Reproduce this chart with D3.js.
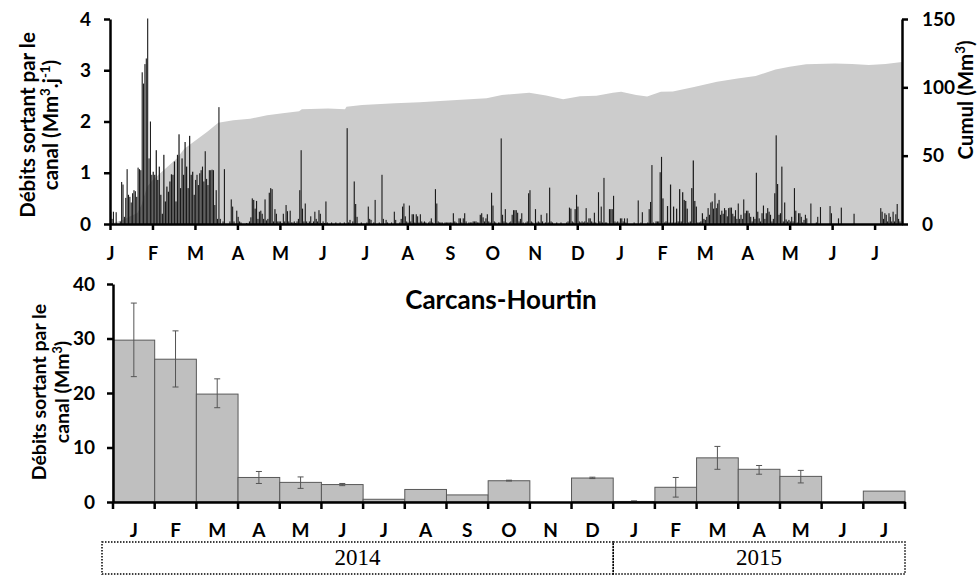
<!DOCTYPE html>
<html lang="fr">
<head>
<meta charset="UTF-8">
<title>Carcans-Hourtin - débits sortant par le canal</title>
<script src="https://cdn.jsdelivr.net/npm/d3@7"></script>
<style>
  body { margin: 0; background: #fff; }
  svg text { font-family: Lato, "Open Sans", sans-serif; font-weight: bold; fill: #000; }
  svg text.year { font-family: "Liberation Serif", "Times New Roman", serif; font-weight: normal; }
</style>
</head>
<body>
<svg id="chart" width="979" height="576"></svg>
<script>
// month initials, Jan 2014 -> Jul 2015
const months = ["J", "F", "M", "A", "M", "J", "J", "A", "S", "O", "N", "D", "J", "F", "M", "A", "M", "J", "J"];
const years = ["2014", "2015"];
const monthsPerYear = [12, 7];

// daily outflow (Mm3/day), one array per month
const daily2014 = [
  [0.24,0.10,0.24,0,0.23,0,0,0.05,0.82,0.77, 0.14,0.51,1.07,0.57,0.53,0.42,0.60,0.66,0.64,0.53, 1.10,1.07,1.05,2.96,2.74,3.12,3.23,4.01,1.28,2.00,0.96],
  [1.02,0.96,1.44,0.86,1.12,0.57,0.20,1.35,0.44,0.73, 0.63,0.83,0.97,0.96,1.22,0.44,1.35,1.75,0.70,1.28, 0.96,1.60,1.12,0.70,1.72,0.96,1.02,0.57],
  [0.86,0.96,0.76,0.99,1.05,1.12,0.83,1.42,0.88,0.76, 1.05,1.05,1.06,1.05,0.37,0.66,0.10,2.28,0.10,0, 0.05,1.07,0,0,0,0.05,0.48,0.34,0.05,0, 0.26],
  [0.14,0.05,0.03,0,0,0,0.02,0,0.05,0.13, 0.50,0.47,0.30,0.45,0.10,0.24,0.26,0.20,0.10,0.48, 0.07,0.10,0.61,0.70,0.68,0.05,0.29,0.20,0.05,0.05],
  [0.05,0.02,0.20,0.05,0.37,0.25,0.05,0.26,0.03,0.03, 0.05,0.02,0.05,0.10,0.66,1.44,0.30,0.05,0.40,0.05, 0.02,0.05,0.15,0.02,0.05,0.24,0.10,0.05,0.27,0.20, 0.02],
  [0.05,0.02,0.44,0.03,0,0,0.03,0,0,0.03, 0,0,0.03,0,0,0.03,0,1.87,0.03,0.08, 0,0.05,0.83,0.39,0.14,0,0,0.03,0,0],
  [0,0.03,0.34,0.10,0.08,0,0.03,0.47,0,0, 0.03,0,0.96,0.10,0,0.08,0.03,0,0,0.03, 0,0.24,0.08,0,0,0.03,0.10,0.34,0.40,0.15, 0.05],
  [0.03,0.36,0.05,0.19,0.19,0.03,0.19,0.15,0.03,0.19, 0.05,0.03,0.05,0.03,0,0.03,0.05,0.11,0.03,0, 0.68,0.40,0.05,0.03,0.03,0.03,0,0.03,0.03,0.03, 0.03],
  [0.03,0.03,0.21,0.05,0.03,0,0.11,0.11,0.03,0.11, 0.21,0.05,0,0.03,0.03,0.03,0.05,0.05,0.05,0.03, 0.03,0.18,0.21,0.13,0.05,0.11,0.19,0.05,0.03,0.61],
  [0.36,0.05,0.03,0,0.03,0.03,1.67,0.18,0.05,0.29, 0.03,0,0.03,0.05,0.18,0.27,0.27,0.27,0.22,0.05, 0.10,0.21,0.03,0,0.03,0.05,0.60,0.66,0.05,0.03, 0],
  [0.29,0.03,0.05,0.03,0.18,0.05,0,0.03,0.21,0.03, 0.71,0.05,0.03,0,0,0.03,0,0,0.03,0, 0,0,0.03,0.05,0.32,0.30,0.05,0.03,0.29,0.57],
  [0.34,0.05,0.03,0.05,0.03,0.05,0.31,0.03,0.11,0.11, 0.05,0.03,0.22,0.03,0,0.62,0.05,0.34,0.03,0.90, 0.03,0.03,0,0.29,0.29,0.29,0.55,0.05,0.03,0.05, 0.03]
];
const daily2015 = [
  [0.11,0.11,0.05,0.11,0.03,0.11,0,0,0,0, 0.03,0,0,0.46,0,0.03,0.23,0,0,0, 0.03,0.29,0.43,1.15,0.03,0,0.05,0.05,0.05,1.01, 1.31],
  [0.50,0.03,0.05,0.35,0.03,0.77,0.03,0.34,0.03,0.30, 0.05,0.68,0.05,0.62,0.47,0.45,0.30,0.03,0.05,0.70, 1.24,0.45,0.34,0.03,0.03,0.05,0.21,0.10],
  [0.08,0.14,0.31,0.18,0.42,0.44,0.30,0.60,0.31,0.40, 0.47,0.18,0.26,0.20,0.31,0.27,0.15,0.31,0.32,0.32, 0.20,0.15,0.27,0.10,0.40,0.10,0.18,0.10,0.48,0.21, 0.26],
  [0.26,0.21,0.14,0.05,0.14,0.10,1.00,0.24,0.11,0.05, 0.21,0.36,0.10,0.21,0.31,0.24,0.18,0.05,0.10,0.60, 1.73,0.78,0.18,0.21,1.12,0.05,0.42,0.09,0.05,0.08],
  [0.05,0.14,0.05,0.70,0.26,0.03,0.21,0.21,0.14,0.03, 0.08,0.18,0.11,0,0,0.40,0,0,0,0.03, 0.14,0,0.33,0,0,0,0,0,0,0.35, 0.21],
  [0,0,0,0,0.11,0,0.32,0,0,0, 0,0,0,0,0,0.20,0,0,0,0, 0,0,0,0,0,0,0,0,0,0],
  [0,0,0,0,0.31,0.24,0.10,0.21,0.18,0.05, 0.21,0.14,0.05,0.24,0.05,0.19,0.39,0.10,0.05]
];
const axisEnd = "2015-07-21";

// cumulative volume (Mm3), right axis of the top panel
const cumulDates = ["2014-01-01","2014-01-10","2014-01-21","2014-01-24","2014-01-28","2014-02-01","2014-02-07","2014-02-17",
  "2014-02-22","2014-02-28","2014-03-10","2014-03-18","2014-03-29","2014-04-10","2014-04-22","2014-05-03","2014-05-15",
  "2014-05-17","2014-06-05","2014-06-17","2014-06-18","2014-06-29","2014-07-23","2014-08-10","2014-09-03","2014-09-27",
  "2014-10-08","2014-10-28","2014-11-09","2014-11-21","2014-12-03","2014-12-15","2014-12-27","2015-01-02","2015-01-13",
  "2015-01-21","2015-01-31","2015-02-08","2015-02-22","2015-03-10","2015-03-25","2015-04-07","2015-04-21","2015-05-01",
  "2015-05-13","2015-06-03","2015-06-15","2015-06-27","2015-07-09","2015-07-21"];
const cumulValues = [0, 3, 8, 14, 27, 32, 38, 48,
  55, 60, 67.5, 74, 76, 77, 79.5, 81, 82.5,
  84, 84.6, 84, 85.8, 87, 88.3, 89, 90.5, 92,
  94.4, 96.1, 94, 91.2, 93.5, 93.8, 96, 96.8, 94.4,
  93.3, 96.8, 97, 100.2, 104, 106.4, 108.3, 113, 115,
  116.8, 117.5, 117, 116.3, 117, 118.5];

// monthly outflow (Mm3) with error bar limits, bottom panel
const monthlyFlow = [29.7, 26.2, 19.8, 4.5, 3.6, 3.2, 0.5, 2.3, 1.3, 3.9, 0, 4.4, 0.1, 2.7, 8.1, 6.0, 4.7, 0, 2.0];
const monthlyLow  = [23.0, 21.1, 17.3, 3.4, 2.5, 3.0, null, null, null, 3.85, null, 4.3, 0.1, 0.9, 6.0, 5.1, 3.5, null, null];
const monthlyHigh = [36.5, 31.4, 22.6, 5.6, 4.6, 3.4, null, null, null, 4.0, null, 4.55, 0.2, 4.5, 10.2, 6.7, 5.8, null, null];

const flowTicks = [0, 1, 2, 3, 4];
const cumulTicks = [0, 50, 100, 150];
const monthlyTicks = [0, 10, 20, 30, 40];

// helpers: a date -> fractional month index since Jan 2014 (each month gets the same width)
function daysIn(year, month) { return new Date(year, month + 1, 0).getDate(); }
function monthPos(dateStr) {
  const [y, mo, d] = dateStr.split('-').map(Number);
  return (y - 2014) * 12 + (mo - 1) + (d - 1) / daysIn(y, mo - 1);
}

const dailyData = [];
[daily2014, daily2015].forEach((yearArr, yi) => {
  yearArr.forEach((monthArr, mi) => {
    const dim = daysIn(2014 + yi, mi);
    monthArr.forEach((v, di) => {
      dailyData.push({ m: yi * 12 + mi + di / dim, w: 1 / dim, v: v });
    });
  });
});
const cumulData = cumulDates.map((d, i) => ({ m: monthPos(d), v: cumulValues[i] }));

const svg = d3.select('#chart');

function styleAxis(g, size) {
  g.attr('font-family', null).attr('font-size', null);
  g.selectAll('path, line').attr('stroke', '#000').attr('stroke-width', 2.5);
  g.selectAll('text').style('font-size', size + 'px');
}

// ---------- top panel: daily flow + cumulative ----------
const topBox = { left: 110, right: 902, top: 19, bottom: 224 };
const x = d3.scaleLinear().domain([0, monthPos(axisEnd)]).range([topBox.left, topBox.right]);
const yFlow = d3.scaleLinear().domain([0, 4]).range([topBox.bottom, topBox.top]);
const yCumul = d3.scaleLinear().domain([0, 150]).range([topBox.bottom, topBox.top]);

svg.append('path')
  .datum(cumulData)
  .attr('fill', '#cccccc')
  .attr('d', d3.area().x(d => x(d.m)).y0(yCumul(0)).y1(d => yCumul(d.v)));

svg.append('g').selectAll('rect')
  .data(dailyData.filter(d => d.v > 0))
  .enter().append('rect')
  .attr('x', d => x(d.m) + (x(d.w) - x(0)) * 0.1)
  .attr('width', d => (x(d.w) - x(0)) * 0.8)
  .attr('y', d => yFlow(d.v))
  .attr('height', d => yFlow(0) - yFlow(d.v))
  .attr('fill', '#1a1a1a');

svg.append('g')
  .attr('transform', `translate(0,${topBox.bottom})`)
  .call(d3.axisBottom(x).tickValues(d3.range(months.length)).tickFormat(i => months[i])
    .tickSize(6).tickSizeOuter(0).tickPadding(17))
  .call(g => styleAxis(g, 18));

svg.append('g')
  .attr('transform', `translate(${topBox.left},0)`)
  .call(d3.axisLeft(yFlow).tickValues(flowTicks).tickFormat(d3.format('d'))
    .tickSize(6).tickSizeOuter(0).tickPadding(13))
  .call(g => styleAxis(g, 19));

svg.append('g')
  .attr('transform', `translate(${topBox.right},0)`)
  .call(d3.axisRight(yCumul).tickValues(cumulTicks).tickSize(6).tickSizeOuter(0).tickPadding(14))
  .call(g => styleAxis(g, 19));

// rotated axis titles, one entry per line; superscript parts are raised then dropped back
function rotatedLabel(cx, cy, lines, size, gap) {
  const g = svg.append('g').attr('transform', `translate(${cx},${cy}) rotate(-90)`);
  const rise = size * 0.38;
  lines.forEach((parts, i) => {
    const t = g.append('text').attr('text-anchor', 'middle').attr('y', i * gap).style('font-size', size + 'px');
    let shift = 0;
    parts.forEach(p => {
      const sp = t.append('tspan');
      if (p.sup) {
        sp.attr('dy', -rise - shift).style('font-size', (size * 0.65) + 'px').text(p.sup);
        shift = -rise;
      } else {
        if (shift) sp.attr('dy', -shift);
        sp.text(p.t);
        shift = 0;
      }
    });
  });
}

rotatedLabel(35, 125, [
  [{ t: 'Débits sortant par le' }],
  [{ t: 'canal (Mm' }, { sup: '3' }, { t: '.j' }, { sup: '-1' }, { t: ')' }]
], 20.5, 23);

rotatedLabel(973, 100, [
  [{ t: 'Cumul (Mm' }, { sup: '3' }, { t: ')' }]
], 20.5, 23);

// ---------- bottom panel: monthly totals ----------
const botBox = { left: 113, right: 905, top: 284, bottom: 502 };
const xB = d3.scaleBand().domain(d3.range(months.length)).range([botBox.left, botBox.right]).padding(0);
const yB = d3.scaleLinear().domain([0, 40]).range([botBox.bottom, botBox.top]);

svg.append('g').selectAll('rect')
  .data(monthlyFlow.map((v, i) => ({ i, v })).filter(d => d.v > 0))
  .enter().append('rect')
  .attr('x', d => xB(d.i))
  .attr('width', xB.bandwidth())
  .attr('y', d => yB(d.v))
  .attr('height', d => yB(0) - yB(d.v))
  .attr('fill', '#bfbfbf')
  .attr('stroke', '#595959')
  .attr('stroke-width', 1);

// error bars
const errData = monthlyFlow.map((v, i) => ({ i, lo: monthlyLow[i], hi: monthlyHigh[i] })).filter(d => d.lo !== null);
const errG = svg.append('g').attr('stroke', '#555').attr('stroke-width', 1);
errData.forEach(d => {
  const cx = xB(d.i) + xB.bandwidth() / 2;
  errG.append('line').attr('x1', cx).attr('x2', cx).attr('y1', yB(d.lo)).attr('y2', yB(d.hi));
  errG.append('line').attr('x1', cx - 3).attr('x2', cx + 3).attr('y1', yB(d.lo)).attr('y2', yB(d.lo));
  errG.append('line').attr('x1', cx - 3).attr('x2', cx + 3).attr('y1', yB(d.hi)).attr('y2', yB(d.hi));
});

// x axis: labels centred on the months, ticks on the month boundaries
svg.append('g')
  .attr('transform', `translate(0,${botBox.bottom})`)
  .call(d3.axisBottom(xB).tickFormat(i => months[i]).tickSize(0).tickPadding(22))
  .call(g => styleAxis(g, 19));

svg.append('g').selectAll('line')
  .data(d3.range(months.length + 1))
  .enter().append('line')
  .attr('x1', i => i < months.length ? xB(i) : xB.range()[1])
  .attr('x2', i => i < months.length ? xB(i) : xB.range()[1])
  .attr('y1', botBox.bottom)
  .attr('y2', botBox.bottom + 7)
  .attr('stroke', '#000')
  .attr('stroke-width', 2.5);

svg.append('g')
  .attr('transform', `translate(${botBox.left},0)`)
  .call(d3.axisLeft(yB).tickValues(monthlyTicks).tickSize(6).tickSizeOuter(0).tickPadding(12))
  .call(g => styleAxis(g, 19));

rotatedLabel(46, 392, [
  [{ t: 'Débits sortant par le' }],
  [{ t: 'canal (Mm' }, { sup: '3' }, { t: ')' }]
], 19.5, 23);

svg.append('text')
  .attr('x', 501)
  .attr('y', 309)
  .attr('text-anchor', 'middle')
  .style('font-size', '26px')
  .text('Carcans-Hourtin');

// year boxes under the month labels
let start = 0;
years.forEach((yr, k) => {
  const x0 = xB(start) - (k === 0 ? 11 : 0);
  const end = start + monthsPerYear[k];
  const x1 = end < months.length ? xB(end) : xB.range()[1];
  svg.append('rect')
    .attr('x', x0).attr('y', 542).attr('width', x1 - x0).attr('height', 32)
    .attr('fill', 'none').attr('stroke', '#000').attr('stroke-width', 1.5)
    .attr('stroke-dasharray', '1.5,1.5');
  svg.append('text')
    .attr('class', 'year')
    .attr('x', (x0 + x1) / 2)
    .attr('y', 565)
    .attr('text-anchor', 'middle')
    .style('font-size', '23px')
    .text(yr);
  start = end;
});
</script>
</body>
</html>
